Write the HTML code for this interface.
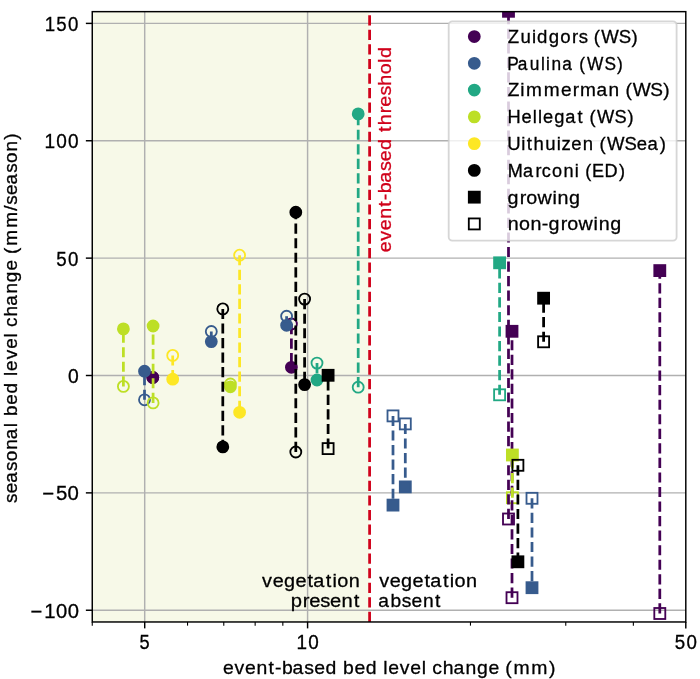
<!DOCTYPE html>
<html><head><meta charset="utf-8"><style>
html,body{margin:0;padding:0;background:#fff;width:700px;height:679px;overflow:hidden;}
svg{display:block;font-family:"Liberation Sans",sans-serif;}
#w{width:700px;height:679px;will-change:transform;}
</style></head><body>
<div id="w"><svg width="700" height="679" viewBox="0 0 700 679">
<defs><clipPath id="ax"><rect x="92.26" y="11.65" width="593.54" height="610.32"/></clipPath></defs>
<rect width="700" height="679" fill="#fff"/>
<rect x="92.26" y="11.65" width="277.34" height="610.32" fill="#f7f9e8"/>
<g stroke="#b0b0b0" stroke-width="1.46"><line x1="144.70" y1="11.65" x2="144.70" y2="621.98"/><line x1="307.59" y1="11.65" x2="307.59" y2="621.98"/><line x1="92.26" y1="610.24" x2="685.80" y2="610.24"/><line x1="92.26" y1="492.87" x2="685.80" y2="492.87"/><line x1="92.26" y1="375.50" x2="685.80" y2="375.50"/><line x1="92.26" y1="258.13" x2="685.80" y2="258.13"/><line x1="92.26" y1="140.76" x2="685.80" y2="140.76"/><line x1="92.26" y1="23.39" x2="685.80" y2="23.39"/></g>
<g clip-path="url(#ax)">
<line x1="369.6" y1="621.98" x2="369.6" y2="11.65" stroke="#d0021b" stroke-width="2.75" stroke-dasharray="10.16 4.39"/>
<line x1="152.8" y1="377.5" x2="152.8" y2="377.5" stroke="#440154" stroke-width="2.75" stroke-dasharray="10.16 4.39"/>
<circle cx="152.80" cy="377.50" r="5.49" fill="#440154" stroke="#440154" stroke-width="1.83"/>
<circle cx="152.80" cy="377.50" r="5.49" fill="none" stroke="#440154" stroke-width="1.83"/>
<line x1="291.4" y1="324.0" x2="291.4" y2="367.3" stroke="#440154" stroke-width="2.75" stroke-dasharray="10.16 4.39"/>
<circle cx="291.40" cy="367.30" r="5.49" fill="#440154" stroke="#440154" stroke-width="1.83"/>
<circle cx="291.40" cy="324.00" r="5.49" fill="none" stroke="#440154" stroke-width="1.83"/>
<line x1="144.5" y1="399.8" x2="144.5" y2="371.2" stroke="#375b8d" stroke-width="2.75" stroke-dasharray="10.16 4.39"/>
<circle cx="144.50" cy="371.20" r="5.49" fill="#375b8d" stroke="#375b8d" stroke-width="1.83"/>
<circle cx="144.50" cy="399.80" r="5.49" fill="none" stroke="#375b8d" stroke-width="1.83"/>
<line x1="211.3" y1="331.5" x2="211.3" y2="341.6" stroke="#375b8d" stroke-width="2.75" stroke-dasharray="10.16 4.39"/>
<circle cx="211.30" cy="341.60" r="5.49" fill="#375b8d" stroke="#375b8d" stroke-width="1.83"/>
<circle cx="211.30" cy="331.50" r="5.49" fill="none" stroke="#375b8d" stroke-width="1.83"/>
<line x1="286.6" y1="316.2" x2="286.6" y2="325.3" stroke="#375b8d" stroke-width="2.75" stroke-dasharray="10.16 4.39"/>
<circle cx="286.60" cy="325.30" r="5.49" fill="#375b8d" stroke="#375b8d" stroke-width="1.83"/>
<circle cx="286.60" cy="316.20" r="5.49" fill="none" stroke="#375b8d" stroke-width="1.83"/>
<line x1="317.0" y1="363.1" x2="317.0" y2="380.0" stroke="#22a884" stroke-width="2.75" stroke-dasharray="10.16 4.39"/>
<circle cx="317.00" cy="380.00" r="5.49" fill="#22a884" stroke="#22a884" stroke-width="1.83"/>
<circle cx="317.00" cy="363.10" r="5.49" fill="none" stroke="#22a884" stroke-width="1.83"/>
<line x1="358.2" y1="387.2" x2="358.2" y2="113.9" stroke="#22a884" stroke-width="2.75" stroke-dasharray="10.16 4.39"/>
<circle cx="358.20" cy="113.90" r="5.49" fill="#22a884" stroke="#22a884" stroke-width="1.83"/>
<circle cx="358.20" cy="387.20" r="5.49" fill="none" stroke="#22a884" stroke-width="1.83"/>
<line x1="123.4" y1="386.4" x2="123.4" y2="328.9" stroke="#bddf26" stroke-width="2.75" stroke-dasharray="10.16 4.39"/>
<circle cx="123.40" cy="328.90" r="5.49" fill="#bddf26" stroke="#bddf26" stroke-width="1.83"/>
<circle cx="123.40" cy="386.40" r="5.49" fill="none" stroke="#bddf26" stroke-width="1.83"/>
<line x1="153.1" y1="402.9" x2="153.1" y2="326.0" stroke="#bddf26" stroke-width="2.75" stroke-dasharray="10.16 4.39"/>
<circle cx="153.10" cy="326.00" r="5.49" fill="#bddf26" stroke="#bddf26" stroke-width="1.83"/>
<circle cx="153.10" cy="402.90" r="5.49" fill="none" stroke="#bddf26" stroke-width="1.83"/>
<line x1="230.4" y1="384.0" x2="230.4" y2="386.8" stroke="#bddf26" stroke-width="2.75" stroke-dasharray="10.16 4.39"/>
<circle cx="230.40" cy="386.80" r="5.49" fill="#bddf26" stroke="#bddf26" stroke-width="1.83"/>
<circle cx="230.40" cy="384.00" r="5.49" fill="none" stroke="#bddf26" stroke-width="1.83"/>
<line x1="172.7" y1="355.4" x2="172.7" y2="379.2" stroke="#fde725" stroke-width="2.75" stroke-dasharray="10.16 4.39"/>
<circle cx="172.70" cy="379.20" r="5.49" fill="#fde725" stroke="#fde725" stroke-width="1.83"/>
<circle cx="172.70" cy="355.40" r="5.49" fill="none" stroke="#fde725" stroke-width="1.83"/>
<line x1="239.6" y1="255.2" x2="239.6" y2="412.3" stroke="#fde725" stroke-width="2.75" stroke-dasharray="10.16 4.39"/>
<circle cx="239.60" cy="412.30" r="5.49" fill="#fde725" stroke="#fde725" stroke-width="1.83"/>
<circle cx="239.60" cy="255.20" r="5.49" fill="none" stroke="#fde725" stroke-width="1.83"/>
<rect x="503.01" y="513.51" width="10.98" height="10.98" fill="none" stroke="#440154" stroke-width="1.83" stroke-linejoin="miter"/>
<rect x="506.51" y="592.21" width="10.98" height="10.98" fill="none" stroke="#440154" stroke-width="1.83" stroke-linejoin="miter"/>
<rect x="654.31" y="608.01" width="10.98" height="10.98" fill="none" stroke="#440154" stroke-width="1.83" stroke-linejoin="miter"/>
<rect x="387.51" y="410.41" width="10.98" height="10.98" fill="none" stroke="#375b8d" stroke-width="1.83" stroke-linejoin="miter"/>
<rect x="399.81" y="418.41" width="10.98" height="10.98" fill="none" stroke="#375b8d" stroke-width="1.83" stroke-linejoin="miter"/>
<rect x="526.51" y="492.81" width="10.98" height="10.98" fill="none" stroke="#375b8d" stroke-width="1.83" stroke-linejoin="miter"/>
<rect x="494.11" y="389.31" width="10.98" height="10.98" fill="none" stroke="#22a884" stroke-width="1.83" stroke-linejoin="miter"/>
<rect x="506.91" y="492.21" width="10.98" height="10.98" fill="none" stroke="#bddf26" stroke-width="1.83" stroke-linejoin="miter"/>
<line x1="508.5" y1="519.0" x2="508.5" y2="11.3" stroke="#440154" stroke-width="2.75" stroke-dasharray="10.16 4.39"/>
<line x1="512.0" y1="597.7" x2="512.0" y2="331.3" stroke="#440154" stroke-width="2.75" stroke-dasharray="10.16 4.39"/>
<line x1="659.8" y1="613.5" x2="659.8" y2="270.6" stroke="#440154" stroke-width="2.75" stroke-dasharray="10.16 4.39"/>
<line x1="393.0" y1="415.9" x2="393.0" y2="505.1" stroke="#375b8d" stroke-width="2.75" stroke-dasharray="10.16 4.39"/>
<line x1="405.3" y1="423.9" x2="405.3" y2="486.9" stroke="#375b8d" stroke-width="2.75" stroke-dasharray="10.16 4.39"/>
<line x1="532.0" y1="498.3" x2="532.0" y2="587.7" stroke="#375b8d" stroke-width="2.75" stroke-dasharray="10.16 4.39"/>
<line x1="499.6" y1="394.8" x2="499.6" y2="262.8" stroke="#22a884" stroke-width="2.75" stroke-dasharray="10.16 4.39"/>
<line x1="512.4" y1="497.7" x2="512.4" y2="455.0" stroke="#bddf26" stroke-width="2.75" stroke-dasharray="10.16 4.39"/>
<rect x="503.01" y="5.81" width="10.98" height="10.98" fill="#440154" stroke="#440154" stroke-width="1.83" stroke-linejoin="miter"/>
<rect x="506.51" y="325.81" width="10.98" height="10.98" fill="#440154" stroke="#440154" stroke-width="1.83" stroke-linejoin="miter"/>
<rect x="654.31" y="265.11" width="10.98" height="10.98" fill="#440154" stroke="#440154" stroke-width="1.83" stroke-linejoin="miter"/>
<rect x="387.51" y="499.61" width="10.98" height="10.98" fill="#375b8d" stroke="#375b8d" stroke-width="1.83" stroke-linejoin="miter"/>
<rect x="399.81" y="481.41" width="10.98" height="10.98" fill="#375b8d" stroke="#375b8d" stroke-width="1.83" stroke-linejoin="miter"/>
<rect x="526.51" y="582.21" width="10.98" height="10.98" fill="#375b8d" stroke="#375b8d" stroke-width="1.83" stroke-linejoin="miter"/>
<rect x="494.11" y="257.31" width="10.98" height="10.98" fill="#22a884" stroke="#22a884" stroke-width="1.83" stroke-linejoin="miter"/>
<rect x="506.91" y="449.51" width="10.98" height="10.98" fill="#bddf26" stroke="#bddf26" stroke-width="1.83" stroke-linejoin="miter"/>
<line x1="222.8" y1="308.9" x2="222.8" y2="446.9" stroke="#000000" stroke-width="2.75" stroke-dasharray="10.16 4.39"/>
<circle cx="222.80" cy="446.90" r="5.49" fill="#000000" stroke="#000000" stroke-width="1.83"/>
<circle cx="222.80" cy="308.90" r="5.49" fill="none" stroke="#000000" stroke-width="1.83"/>
<line x1="295.8" y1="452.0" x2="295.8" y2="212.2" stroke="#000000" stroke-width="2.75" stroke-dasharray="10.16 4.39"/>
<circle cx="295.80" cy="212.20" r="5.49" fill="#000000" stroke="#000000" stroke-width="1.83"/>
<circle cx="295.80" cy="452.00" r="5.49" fill="none" stroke="#000000" stroke-width="1.83"/>
<line x1="304.6" y1="299.1" x2="304.6" y2="384.6" stroke="#000000" stroke-width="2.75" stroke-dasharray="10.16 4.39"/>
<circle cx="304.60" cy="384.60" r="5.49" fill="#000000" stroke="#000000" stroke-width="1.83"/>
<circle cx="304.60" cy="299.10" r="5.49" fill="none" stroke="#000000" stroke-width="1.83"/>
<line x1="328.1" y1="448.6" x2="328.1" y2="375.3" stroke="#000000" stroke-width="2.75" stroke-dasharray="10.16 4.39"/>
<rect x="322.61" y="369.81" width="10.98" height="10.98" fill="#000000" stroke="#000000" stroke-width="1.83" stroke-linejoin="miter"/>
<rect x="322.61" y="443.11" width="10.98" height="10.98" fill="none" stroke="#000000" stroke-width="1.83" stroke-linejoin="miter"/>
<line x1="517.9" y1="465.3" x2="517.9" y2="561.8" stroke="#000000" stroke-width="2.75" stroke-dasharray="10.16 4.39"/>
<rect x="512.41" y="556.31" width="10.98" height="10.98" fill="#000000" stroke="#000000" stroke-width="1.83" stroke-linejoin="miter"/>
<rect x="512.41" y="459.81" width="10.98" height="10.98" fill="none" stroke="#000000" stroke-width="1.83" stroke-linejoin="miter"/>
<line x1="543.6" y1="341.8" x2="543.6" y2="298.2" stroke="#000000" stroke-width="2.75" stroke-dasharray="10.16 4.39"/>
<rect x="538.11" y="292.71" width="10.98" height="10.98" fill="#000000" stroke="#000000" stroke-width="1.83" stroke-linejoin="miter"/>
<rect x="538.11" y="336.31" width="10.98" height="10.98" fill="none" stroke="#000000" stroke-width="1.83" stroke-linejoin="miter"/>
</g>
<rect x="92.26" y="11.65" width="593.54" height="610.32" fill="none" stroke="#000" stroke-width="1.46"/>
<g stroke="#000"><line x1="144.70" y1="621.98" x2="144.70" y2="628.38" stroke-width="1.46"/><line x1="307.59" y1="621.98" x2="307.59" y2="628.38" stroke-width="1.46"/><line x1="685.80" y1="621.98" x2="685.80" y2="628.38" stroke-width="1.46"/><line x1="92.26" y1="621.98" x2="92.26" y2="625.64" stroke-width="1.10"/><line x1="187.54" y1="621.98" x2="187.54" y2="625.64" stroke-width="1.10"/><line x1="223.77" y1="621.98" x2="223.77" y2="625.64" stroke-width="1.10"/><line x1="255.15" y1="621.98" x2="255.15" y2="625.64" stroke-width="1.10"/><line x1="282.83" y1="621.98" x2="282.83" y2="625.64" stroke-width="1.10"/><line x1="470.47" y1="621.98" x2="470.47" y2="625.64" stroke-width="1.10"/><line x1="565.76" y1="621.98" x2="565.76" y2="625.64" stroke-width="1.10"/><line x1="633.36" y1="621.98" x2="633.36" y2="625.64" stroke-width="1.10"/><line x1="92.26" y1="610.24" x2="85.86" y2="610.24" stroke-width="1.46"/><line x1="92.26" y1="492.87" x2="85.86" y2="492.87" stroke-width="1.46"/><line x1="92.26" y1="375.50" x2="85.86" y2="375.50" stroke-width="1.46"/><line x1="92.26" y1="258.13" x2="85.86" y2="258.13" stroke-width="1.46"/><line x1="92.26" y1="140.76" x2="85.86" y2="140.76" stroke-width="1.46"/><line x1="92.26" y1="23.39" x2="85.86" y2="23.39" stroke-width="1.46"/></g>
<g font-family="Liberation Sans, sans-serif" fill="#000">
<text transform="scale(1.0414,1)" x="29.38 42.50 53.79 64.97" y="617.64" font-size="19.4" fill="#000" stroke="#000" stroke-width="0.288">−100</text>
<text transform="scale(1.0506,1)" x="40.16 53.20 64.35" y="500.27" font-size="19.4" fill="#000" stroke="#000" stroke-width="0.286">−50</text>
<text transform="scale(0.9944,1)" x="68.29" y="382.90" font-size="19.4" fill="#000" stroke="#000" stroke-width="0.302">0</text>
<text transform="scale(0.9665,1)" x="58.30 70.42" y="265.53" font-size="19.4" fill="#000" stroke="#000" stroke-width="0.310">50</text>
<text transform="scale(0.9805,1)" x="45.49 57.46 69.34" y="148.16" font-size="19.4" fill="#000" stroke="#000" stroke-width="0.306">100</text>
<text transform="scale(0.9613,1)" x="46.51 58.64 70.83" y="30.79" font-size="19.4" fill="#000" stroke="#000" stroke-width="0.312">150</text>
<text transform="scale(0.9384,1)" x="148.72" y="649.20" font-size="19.4" fill="#000" stroke="#000" stroke-width="0.320">5</text>
<text transform="scale(0.9732,1)" x="304.58 316.64" y="649.20" font-size="19.4" fill="#000" stroke="#000" stroke-width="0.308">10</text>
<text transform="scale(0.9665,1)" x="698.06 710.18" y="649.20" font-size="19.4" fill="#000" stroke="#000" stroke-width="0.310">50</text>
<text transform="scale(1.0107,1)" x="220.69 232.12 242.54 253.85 265.72 272.06 279.04 289.54 301.16 310.81 321.99 333.18 339.45 350.70 361.87 373.06 379.20 384.12 395.55 405.97 417.23 421.87 427.59 437.99 448.58 460.59 471.93 483.39 494.27 499.87 507.96 525.59 543.18" y="673.60" font-size="19.2" fill="#000" stroke="#000" stroke-width="0.297">event-based bed level change (mm)</text>
<g transform="translate(17.45,318.3) rotate(-90)"><text transform="scale(0.9857,1)" x="-187.37 -177.45 -166.78 -154.89 -145.04 -133.44 -122.61 -110.44 -105.73 -99.15 -87.63 -76.18 -64.83 -58.48 -53.36 -41.66 -30.95 -19.49 -14.78 -8.79 1.88 12.75 25.06 36.68 48.43 59.45 65.29 73.69 91.77 109.22 115.18 125.10 135.77 147.66 157.51 169.11 181.20" y="0.00" font-size="19.2" fill="#000" stroke="#000" stroke-width="0.304">seasonal bed level change (mm/season)</text></g>
<g transform="translate(391.3,252.50) rotate(-90)"><text transform="scale(1.0273,1)" x="0.18 11.43 21.68 32.81 44.53 50.75 57.59 67.91 79.36 88.85 99.84 110.94 117.38 123.90 135.67 141.98 152.73 162.36 173.45 184.58 189.40" y="0.00" font-size="19.2" fill="#d0021b" stroke="#d0021b" stroke-width="0.292">event-based threshold</text></g>
<text transform="scale(1.0360,1)" x="253.02 263.18 274.08 285.26 296.74 302.31 314.49 321.00 325.65 336.68" y="587.20" font-size="19.2" fill="#000" stroke="#000" stroke-width="0.290">vegetation</text>
<text transform="scale(1.0521,1)" x="276.42 287.87 294.00 304.51 313.76 324.62 336.13" y="607.30" font-size="19.2" fill="#000" stroke="#000" stroke-width="0.285">present</text>
<text transform="scale(1.0360,1)" x="366.06 376.21 387.12 398.29 409.78 415.35 427.53 434.04 438.68 449.72" y="587.20" font-size="19.2" fill="#000" stroke="#000" stroke-width="0.290">vegetation</text>
<text transform="scale(1.0004,1)" x="378.22 390.43 401.56 411.32 422.74 434.71" y="607.30" font-size="19.2" fill="#000" stroke="#000" stroke-width="0.300">absent</text>
</g>
<rect x="448.7" y="21.3" width="227.90" height="219.40" rx="3.66" ry="3.66" fill="#fff" fill-opacity="0.8" stroke="#ccc" stroke-opacity="0.8" stroke-width="1.83"/>
<g font-family="Liberation Sans, sans-serif" fill="#000">
<circle cx="474.30" cy="36.54" r="5.49" fill="#440154" stroke="#440154" stroke-width="1.83"/>
<text transform="scale(0.9688,1)" x="524.23 537.17 549.04 554.32 566.31 578.21 590.39 597.34 606.93 612.94 620.58 638.68 651.94" y="42.90" font-size="19.2" fill="#000" stroke="#000" stroke-width="0.310">Zuidgors (WS)</text>
<circle cx="474.30" cy="63.31" r="5.49" fill="#375b8d" stroke="#375b8d" stroke-width="1.83"/>
<text transform="scale(0.9011,1)" x="563.05 574.46 587.79 600.30 605.95 612.04 623.93 636.21 642.95 651.57 670.82 684.81" y="69.67" font-size="19.2" fill="#000" stroke="#000" stroke-width="0.333">Paulina (WS)</text>
<circle cx="474.30" cy="90.08" r="5.49" fill="#22a884" stroke="#22a884" stroke-width="1.83"/>
<text transform="scale(0.9937,1)" x="510.96 523.58 529.28 547.22 564.50 576.42 583.74 600.27 612.48 623.61 629.38 636.69 654.40 667.43" y="96.44" font-size="19.2" fill="#000" stroke="#000" stroke-width="0.302">Zimmerman (WS)</text>
<circle cx="474.30" cy="116.85" r="5.49" fill="#bddf26" stroke="#bddf26" stroke-width="1.83"/>
<text transform="scale(0.9515,1)" x="533.44 548.22 559.98 565.32 570.74 582.60 594.02 607.01 613.49 619.68 627.55 645.93 659.37" y="123.21" font-size="19.2" fill="#000" stroke="#000" stroke-width="0.315">Hellegat (WS)</text>
<circle cx="474.30" cy="143.62" r="5.49" fill="#fde725" stroke="#fde725" stroke-width="1.83"/>
<text transform="scale(0.9651,1)" x="525.65 540.03 545.79 552.90 564.87 576.77 581.79 592.01 603.85 615.16 621.21 628.89 647.05 659.90 670.81 683.64" y="149.98" font-size="19.2" fill="#000" stroke="#000" stroke-width="0.311">Uithuizen (WSea)</text>
<circle cx="474.30" cy="170.39" r="5.49" fill="#000" stroke="#000" stroke-width="1.83"/>
<text transform="scale(0.9424,1)" x="538.69 554.96 568.16 574.83 585.80 597.93 609.95 614.78 621.06 628.21 641.39 656.82" y="176.75" font-size="19.2" fill="#000" stroke="#000" stroke-width="0.318">Marconi (ED)</text>
<rect x="468.81" y="191.67" width="10.98" height="10.98" fill="#000" stroke="#000" stroke-width="1.83" stroke-linejoin="miter"/>
<text transform="scale(1.0268,1)" x="494.26 506.16 512.41 523.54 538.12 543.07 554.23" y="203.52" font-size="19.2" fill="#000" stroke="#000" stroke-width="0.292">growing</text>
<rect x="468.81" y="218.44" width="10.98" height="10.98" fill="none" stroke="#000" stroke-width="1.83" stroke-linejoin="miter"/>
<text transform="scale(1.0256,1)" x="495.01 506.09 517.23 528.21 534.85 546.76 553.02 564.17 578.76 583.72 594.90" y="230.29" font-size="19.2" fill="#000" stroke="#000" stroke-width="0.293">non-growing</text>
</g>
</svg>
</div></body></html>
